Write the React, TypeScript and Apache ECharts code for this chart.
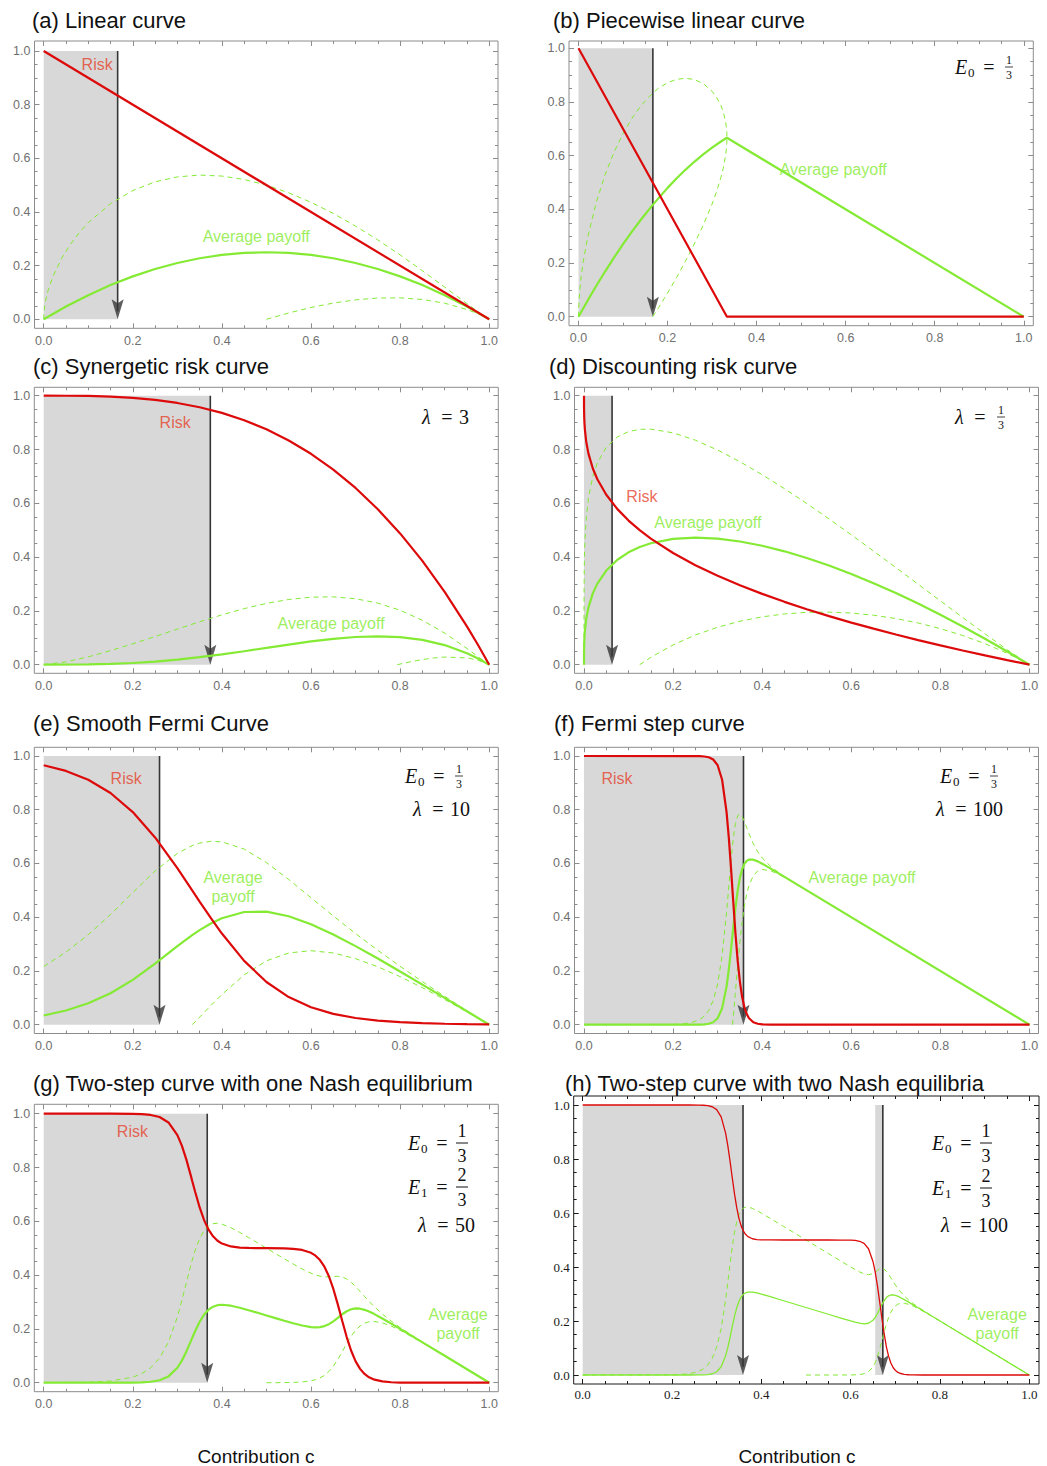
import React, { useEffect, useRef } from "react";
import * as echarts from "echarts";

type P = [number, number];

// ---------- (a) Linear curve ----------
const aRisk: P[] = [[0, 1], [1, 0]];
const aPay: P[] = [[0, 0], [0.05, 0.0475], [0.1, 0.09], [0.15, 0.1275], [0.2, 0.16], [0.25, 0.1875], [0.3, 0.21], [0.35, 0.2275], [0.4, 0.24], [0.45, 0.2475], [0.5, 0.25], [0.55, 0.2475], [0.6, 0.24], [0.65, 0.2275], [0.7, 0.21], [0.75, 0.1875], [0.8, 0.16], [0.85, 0.1275], [0.9, 0.09], [0.95, 0.0475], [1, 0]];
const aUp: P[] = [[0, 0], [0.001, 0.0326], [0.0025, 0.0523], [0.005, 0.0752], [0.01, 0.1084], [0.02, 0.1568], [0.04, 0.2265], [0.06, 0.2796], [0.08, 0.3232], [0.1, 0.36], [0.15, 0.431], [0.2, 0.48], [0.25, 0.5123], [0.3, 0.5308], [0.35, 0.5375], [0.4, 0.5339], [0.45, 0.5211], [0.5, 0.5], [0.55, 0.4714], [0.6, 0.436], [0.65, 0.3945], [0.7, 0.3475], [0.75, 0.2958], [0.8, 0.24], [0.85, 0.1811], [0.9, 0.12], [0.95, 0.0584], [0.975, 0.0283], [0.99, 0.0109], [1, 0]];
const aLow: P[] = [[0.5, 0], [0.55, 0.0236], [0.6, 0.044], [0.65, 0.0605], [0.7, 0.0725], [0.75, 0.0792], [0.8, 0.08], [0.85, 0.0739], [0.9, 0.06], [0.95, 0.0366], [0.975, 0.0205], [0.99, 0.0089], [1, 0]];

// ---------- (b) Piecewise linear ----------
const bRisk: P[] = [[0, 1], [0.3333, 0], [1, 0]];
const bPay: P[] = [[0, 0], [0.02, 0.0588], [0.04, 0.1152], [0.06, 0.1692], [0.08, 0.2208], [0.1, 0.27], [0.12, 0.3168], [0.14, 0.3612], [0.1667, 0.4167], [0.2, 0.48], [0.22, 0.5148], [0.24, 0.5472], [0.26, 0.5772], [0.28, 0.6048], [0.3, 0.63], [0.32, 0.6528], [0.3333, 0.6667], [1, 0]];
const bUp: P[] = [[0, 0], [0.001, 0.0576], [0.005, 0.1359], [0.01, 0.1986], [0.02, 0.2915], [0.04, 0.4272], [0.06, 0.5303], [0.08, 0.6137], [0.1, 0.6824], [0.12, 0.7392], [0.14, 0.7857], [0.1667, 0.8333], [0.18, 0.8515], [0.2, 0.8719], [0.22, 0.8843], [0.24, 0.8884], [0.26, 0.8837], [0.28, 0.8688], [0.3, 0.84], [0.31, 0.8177], [0.32, 0.7861], [0.325, 0.7635], [0.33, 0.73], [0.332, 0.7075], [0.333, 0.6874], [0.3333, 0.6667]];
const bLow: P[] = [[0.1667, 0], [0.18, 0.0341], [0.2, 0.0881], [0.22, 0.1453], [0.24, 0.206], [0.26, 0.2707], [0.28, 0.3408], [0.3, 0.42], [0.31, 0.4657], [0.32, 0.5195], [0.325, 0.5527], [0.33, 0.5966], [0.332, 0.6231], [0.333, 0.6452], [0.3333, 0.6667]];

// ---------- (c) Synergetic ----------
const cRisk: P[] = [[0, 1], [0.05, 0.9999], [0.1, 0.999], [0.15, 0.9966], [0.2, 0.992], [0.25, 0.9844], [0.3, 0.973], [0.35, 0.9571], [0.4, 0.936], [0.45, 0.9089], [0.5, 0.875], [0.55, 0.8336], [0.6, 0.784], [0.65, 0.7254], [0.7, 0.657], [0.75, 0.5781], [0.8, 0.488], [0.85, 0.3859], [0.9, 0.271], [0.95, 0.1426], [0.975, 0.0731], [1, 0]];
const cPay: P[] = [[0, 0], [0.1, 0.0009], [0.15, 0.0029], [0.2, 0.0064], [0.25, 0.0117], [0.3, 0.0189], [0.35, 0.0279], [0.4, 0.0384], [0.45, 0.0501], [0.5, 0.0625], [0.55, 0.0749], [0.6, 0.0864], [0.65, 0.0961], [0.7, 0.1029], [0.75, 0.1055], [0.8, 0.1024], [0.85, 0.0921], [0.9, 0.0729], [0.95, 0.0429], [0.975, 0.0232], [1, 0]];
const cUp: P[] = [[0, 0], [0.05, 0.0107], [0.1, 0.0293], [0.15, 0.0522], [0.2, 0.0777], [0.25, 0.1047], [0.3, 0.1324], [0.35, 0.1596], [0.4, 0.1853], [0.45, 0.2084], [0.5, 0.2279], [0.55, 0.2425], [0.6, 0.251], [0.65, 0.2523], [0.7, 0.2453], [0.75, 0.2289], [0.8, 0.2024], [0.85, 0.1651], [0.9, 0.1174], [0.95, 0.0604], [0.975, 0.0297], [1, 0]];
const cLow: P[] = [[0.7937, 0], [0.8, 0.0024], [0.82, 0.0098], [0.85, 0.0191], [0.875, 0.0249], [0.9, 0.0285], [0.95, 0.0254], [0.975, 0.0167], [1, 0]];

// ---------- (d) Discounting ----------
const dRisk: P[] = [[0, 1], [0.0001, 0.9536], [0.0005, 0.9206], [0.001, 0.9], [0.002, 0.874], [0.005, 0.829], [0.01, 0.7846], [0.02, 0.7286], [0.03, 0.6893], [0.05, 0.6316], [0.075, 0.5783], [0.1, 0.5358], [0.125, 0.5], [0.15, 0.4687], [0.2, 0.4152], [0.25, 0.37], [0.3, 0.3306], [0.35, 0.2953], [0.4, 0.2632], [0.45, 0.2337], [0.5, 0.2063], [0.55, 0.1807], [0.6, 0.1566], [0.65, 0.134], [0.7, 0.1121], [0.75, 0.0914], [0.8, 0.0717], [0.85, 0.0527], [0.9, 0.0345], [0.95, 0.017], [1, 0]];
const dPay: P[] = [[0, 0], [0.0001, 0.0464], [0.0005, 0.0794], [0.001, 0.0999], [0.002, 0.1257], [0.005, 0.1701], [0.01, 0.2132], [0.02, 0.266], [0.03, 0.3014], [0.05, 0.35], [0.075, 0.3901], [0.1, 0.4178], [0.125, 0.4375], [0.15, 0.4516], [0.2, 0.4678], [0.25, 0.4725], [0.3, 0.4686], [0.35, 0.4581], [0.4, 0.4421], [0.45, 0.4215], [0.5, 0.3969], [0.55, 0.3687], [0.6, 0.3374], [0.65, 0.3031], [0.7, 0.2664], [0.75, 0.2272], [0.8, 0.1857], [0.85, 0.1421], [0.9, 0.0966], [0.95, 0.0492], [1, 0]];
const dUp: P[] = [[0, 0], [0.0001, 0.2568], [0.0005, 0.3497], [0.001, 0.3996], [0.002, 0.4569], [0.005, 0.5447], [0.01, 0.6202], [0.02, 0.7018], [0.03, 0.7503], [0.05, 0.8083], [0.075, 0.8469], [0.1, 0.8666], [0.125, 0.875], [0.15, 0.8758], [0.2, 0.862], [0.25, 0.8346], [0.3, 0.7979], [0.35, 0.7546], [0.4, 0.7063], [0.45, 0.6543], [0.5, 0.5992], [0.55, 0.5419], [0.6, 0.4828], [0.65, 0.4223], [0.7, 0.3611], [0.75, 0.2993], [0.8, 0.2373], [0.85, 0.1756], [0.9, 0.1148], [0.95, 0.0557], [1, 0]];
const dLow: P[] = [[0.125, 0], [0.15, 0.0274], [0.2, 0.0736], [0.25, 0.1104], [0.3, 0.1393], [0.35, 0.1616], [0.4, 0.1779], [0.45, 0.1887], [0.5, 0.1946], [0.55, 0.1955], [0.6, 0.192], [0.65, 0.1839], [0.7, 0.1717], [0.75, 0.1551], [0.8, 0.1341], [0.85, 0.1086], [0.9, 0.0783], [0.95, 0.0427], [1, 0]];

// ---------- (e) Smooth Fermi ----------
const eRisk: P[] = [[0, 0.9656], [0.05, 0.9445], [0.1, 0.9116], [0.15, 0.8622], [0.2, 0.7914], [0.25, 0.697], [0.3, 0.5826], [0.3333, 0.5], [0.35, 0.4584], [0.375, 0.3973], [0.4, 0.3393], [0.45, 0.2375], [0.5, 0.1589], [0.55, 0.1028], [0.6, 0.065], [0.65, 0.0404], [0.7, 0.0249], [0.75, 0.0153], [0.8, 0.0093], [0.85, 0.0057], [0.9, 0.0035], [0.95, 0.0021], [1, 0.0013]];
const ePay: P[] = [[0, 0.0344], [0.05, 0.0527], [0.1, 0.0796], [0.15, 0.1171], [0.2, 0.1669], [0.25, 0.2273], [0.3, 0.2922], [0.3333, 0.3333], [0.35, 0.352], [0.375, 0.3767], [0.4, 0.3964], [0.45, 0.4194], [0.5, 0.4206], [0.55, 0.4037], [0.6, 0.374], [0.65, 0.3359], [0.7, 0.2925], [0.75, 0.2462], [0.8, 0.1981], [0.85, 0.1491], [0.9, 0.0997], [0.95, 0.0499], [1, 0]];
const eUp: P[] = [[0, 0.2167], [0.05, 0.2702], [0.1, 0.3351], [0.15, 0.4101], [0.2, 0.4919], [0.25, 0.572], [0.3, 0.6374], [0.3333, 0.6667], [0.35, 0.6759], [0.375, 0.6825], [0.4, 0.6805], [0.45, 0.6535], [0.5, 0.6034], [0.55, 0.5404], [0.6, 0.4726], [0.65, 0.4048], [0.7, 0.3392], [0.75, 0.2769], [0.8, 0.2173], [0.85, 0.1604], [0.9, 0.1055], [0.95, 0.0522], [1, 0]];
const eLow: P[] = [[0.3333, 0], [0.35, 0.0281], [0.375, 0.0709], [0.4, 0.1123], [0.45, 0.1853], [0.5, 0.2378], [0.55, 0.267], [0.6, 0.2754], [0.65, 0.267], [0.7, 0.2458], [0.75, 0.2155], [0.8, 0.1789], [0.85, 0.1378], [0.9, 0.0938], [0.95, 0.0476], [1, 0]];

// ---------- (f) Fermi step ----------
const fRisk: P[] = [[0, 1], [0.24, 0.9999], [0.26, 0.9993], [0.27, 0.9982], [0.28, 0.9952], [0.29, 0.987], [0.3, 0.9656], [0.31, 0.9116], [0.32, 0.7914], [0.325, 0.697], [0.33, 0.5826], [0.3333, 0.5], [0.3367, 0.4174], [0.34, 0.3393], [0.345, 0.2375], [0.35, 0.1589], [0.355, 0.1028], [0.36, 0.065], [0.365, 0.0404], [0.37, 0.0249], [0.38, 0.0093], [0.39, 0.0035], [0.4, 0.0013], [0.42, 0.0002], [0.45, 0], [1, 0]];
const fPay: P[] = [[0, 0], [0.24, 0.0001], [0.26, 0.0005], [0.27, 0.0013], [0.28, 0.0035], [0.29, 0.0092], [0.3, 0.0241], [0.31, 0.061], [0.32, 0.1418], [0.325, 0.2045], [0.33, 0.2797], [0.3333, 0.3333], [0.3367, 0.3864], [0.34, 0.4361], [0.345, 0.4994], [0.35, 0.5467], [0.355, 0.5787], [0.36, 0.5984], [0.365, 0.6093], [0.37, 0.6143], [0.38, 0.6142], [0.39, 0.6079], [0.4, 0.5992], [0.42, 0.5799], [0.45, 0.55], [1, 0]];
const fUp: P[] = [[0, 0], [0.18, 0.0004], [0.2, 0.001], [0.22, 0.0027], [0.24, 0.0072], [0.26, 0.0194], [0.27, 0.032], [0.28, 0.0533], [0.29, 0.0895], [0.3, 0.1518], [0.31, 0.2569], [0.32, 0.4181], [0.325, 0.5147], [0.33, 0.6101], [0.3333, 0.6667], [0.3367, 0.7135], [0.34, 0.7486], [0.345, 0.7782], [0.35, 0.7843], [0.355, 0.7746], [0.36, 0.7562], [0.365, 0.7343], [0.37, 0.7125], [0.38, 0.6738], [0.39, 0.6437], [0.4, 0.6206], [0.42, 0.5875], [0.44, 0.5627], [0.46, 0.5409], [0.5, 0.5], [1, 0]];
const fLow: P[] = [[0.3333, 0], [0.3367, 0.0593], [0.34, 0.1236], [0.345, 0.2206], [0.35, 0.3091], [0.355, 0.3828], [0.36, 0.4406], [0.365, 0.4843], [0.37, 0.5161], [0.38, 0.5546], [0.39, 0.5721], [0.4, 0.5778], [0.42, 0.5723], [0.44, 0.5573], [0.46, 0.5391], [0.5, 0.5], [1, 0]];

// ---------- (g) Two-step, one Nash equilibrium ----------
const gRisk: P[] = [[0, 1], [0.15, 1], [0.2, 0.9994], [0.22, 0.9983], [0.24, 0.9953], [0.26, 0.9876], [0.28, 0.9675], [0.3, 0.9206], [0.31, 0.8813], [0.32, 0.8303], [0.33, 0.7708], [0.3333, 0.75], [0.34, 0.7087], [0.35, 0.6515], [0.36, 0.6043], [0.37, 0.5689], [0.38, 0.5442], [0.39, 0.5277], [0.4, 0.5172], [0.42, 0.5065], [0.44, 0.5024], [0.46, 0.5009], [0.5, 0.5], [0.54, 0.4991], [0.56, 0.4976], [0.58, 0.4935], [0.6, 0.4828], [0.61, 0.4722], [0.62, 0.4558], [0.63, 0.4311], [0.64, 0.3957], [0.65, 0.3485], [0.66, 0.2913], [0.6667, 0.25], [0.67, 0.2292], [0.68, 0.1696], [0.69, 0.1187], [0.7, 0.0794], [0.71, 0.0514], [0.72, 0.0325], [0.73, 0.0202], [0.74, 0.0124], [0.76, 0.0047], [0.78, 0.0017], [0.8, 0.0006], [0.85, 0], [1, 0]];
const gPay: P[] = [[0, 0], [0.15, 0], [0.2, 0.0005], [0.22, 0.0013], [0.24, 0.0035], [0.26, 0.0092], [0.28, 0.0234], [0.3, 0.0556], [0.31, 0.0819], [0.32, 0.1154], [0.33, 0.1536], [0.3333, 0.1667], [0.34, 0.1923], [0.35, 0.2265], [0.36, 0.2532], [0.37, 0.2716], [0.38, 0.2826], [0.39, 0.2881], [0.4, 0.2897], [0.42, 0.2862], [0.44, 0.2787], [0.46, 0.2695], [0.48, 0.2598], [0.5, 0.25], [0.52, 0.2401], [0.54, 0.2304], [0.56, 0.2211], [0.58, 0.2127], [0.6, 0.2069], [0.61, 0.2058], [0.62, 0.2068], [0.63, 0.2105], [0.64, 0.2175], [0.65, 0.228], [0.66, 0.241], [0.6667, 0.25], [0.67, 0.2544], [0.68, 0.2657], [0.69, 0.2732], [0.7, 0.2762], [0.71, 0.2751], [0.72, 0.2709], [0.73, 0.2645], [0.74, 0.2568], [0.76, 0.2389], [0.78, 0.2196], [0.8, 0.1999], [0.85, 0.15], [0.9, 0.1], [1, 0]];
const gUp: P[] = [[0, 0], [0.1, 0.0019], [0.15, 0.0062], [0.2, 0.0207], [0.22, 0.0337], [0.24, 0.0553], [0.26, 0.0913], [0.28, 0.1511], [0.3, 0.2449], [0.31, 0.3051], [0.32, 0.3707], [0.33, 0.4352], [0.3333, 0.4554], [0.34, 0.4922], [0.35, 0.5362], [0.36, 0.5662], [0.37, 0.5836], [0.38, 0.5914], [0.39, 0.5926], [0.4, 0.5895], [0.42, 0.5762], [0.44, 0.5587], [0.46, 0.5395], [0.48, 0.5198], [0.5, 0.5], [0.52, 0.4801], [0.54, 0.4604], [0.56, 0.4411], [0.58, 0.4227], [0.6, 0.4068], [0.61, 0.4005], [0.62, 0.3961], [0.63, 0.3937], [0.64, 0.3935], [0.65, 0.3948], [0.66, 0.3955], [0.6667, 0.3943], [0.67, 0.3931], [0.68, 0.3858], [0.69, 0.3735], [0.7, 0.3573], [0.71, 0.3391], [0.72, 0.3206], [0.73, 0.3025], [0.74, 0.2856], [0.76, 0.2553], [0.78, 0.2287], [0.8, 0.205], [0.85, 0.1511], [0.9, 0.1], [1, 0]];
const gLow: P[] = [[0.5, 0], [0.52, 0.0001], [0.54, 0.0004], [0.56, 0.0011], [0.58, 0.0027], [0.6, 0.007], [0.61, 0.0111], [0.62, 0.0175], [0.63, 0.0273], [0.64, 0.0415], [0.65, 0.0612], [0.66, 0.0865], [0.6667, 0.1057], [0.67, 0.1157], [0.68, 0.1456], [0.69, 0.1729], [0.7, 0.1951], [0.71, 0.2111], [0.72, 0.2212], [0.73, 0.2265], [0.74, 0.228], [0.76, 0.2225], [0.78, 0.2105], [0.8, 0.1948], [0.85, 0.1489], [0.9, 0.1], [1, 0]];

// ---------- (h) Two-step, two Nash equilibria ----------
const hRisk: P[] = [[0, 1], [0.24, 1], [0.26, 0.9997], [0.27, 0.9991], [0.28, 0.9976], [0.29, 0.9935], [0.3, 0.9828], [0.31, 0.9558], [0.32, 0.8957], [0.325, 0.8485], [0.33, 0.7913], [0.3333, 0.75], [0.3367, 0.7087], [0.34, 0.6696], [0.345, 0.6187], [0.35, 0.5794], [0.355, 0.5514], [0.36, 0.5325], [0.365, 0.5202], [0.37, 0.5124], [0.38, 0.5046], [0.39, 0.5017], [0.4, 0.5006], [0.42, 0.5001], [0.45, 0.5], [0.55, 0.5], [0.58, 0.4999], [0.59, 0.4998], [0.6, 0.4994], [0.61, 0.4983], [0.62, 0.4953], [0.63, 0.4876], [0.64, 0.4675], [0.65, 0.4206], [0.655, 0.3813], [0.66, 0.3303], [0.6667, 0.25], [0.67, 0.2087], [0.6733, 0.1696], [0.68, 0.1043], [0.685, 0.0689], [0.69, 0.0442], [0.695, 0.0277], [0.7, 0.0172], [0.705, 0.0106], [0.71, 0.0065], [0.72, 0.0024], [0.73, 0.0009], [0.74, 0.0003], [0.76, 0], [1, 0]];
const hPay: P[] = [[0, 0], [0.24, 0], [0.26, 0.0002], [0.27, 0.0006], [0.28, 0.0017], [0.29, 0.0046], [0.3, 0.0121], [0.31, 0.0305], [0.32, 0.0709], [0.325, 0.1023], [0.33, 0.1398], [0.3333, 0.1667], [0.3367, 0.1932], [0.34, 0.2181], [0.345, 0.2498], [0.35, 0.2734], [0.355, 0.2893], [0.36, 0.2992], [0.365, 0.3047], [0.37, 0.3072], [0.38, 0.3071], [0.39, 0.304], [0.4, 0.2996], [0.42, 0.29], [0.45, 0.275], [0.5, 0.25], [0.55, 0.225], [0.58, 0.21], [0.6, 0.2003], [0.61, 0.1957], [0.62, 0.1918], [0.63, 0.1896], [0.64, 0.1917], [0.65, 0.2028], [0.655, 0.2135], [0.66, 0.2277], [0.6667, 0.25], [0.67, 0.2611], [0.6733, 0.2713], [0.68, 0.2866], [0.685, 0.2933], [0.69, 0.2963], [0.695, 0.2966], [0.7, 0.2948], [0.705, 0.2919], [0.71, 0.2881], [0.72, 0.2793], [0.73, 0.2698], [0.74, 0.2599], [0.75, 0.25], [0.8, 0.2], [1, 0]];
const hUp: P[] = [[0, 0], [0.2, 0.0007], [0.22, 0.0019], [0.24, 0.0051], [0.26, 0.0136], [0.27, 0.0224], [0.28, 0.037], [0.29, 0.0615], [0.3, 0.1031], [0.31, 0.1723], [0.32, 0.2787], [0.325, 0.3443], [0.33, 0.4121], [0.3333, 0.4554], [0.3367, 0.4946], [0.34, 0.5286], [0.345, 0.5679], [0.35, 0.5943], [0.355, 0.6101], [0.36, 0.6185], [0.365, 0.6221], [0.37, 0.6221], [0.38, 0.6171], [0.39, 0.609], [0.4, 0.5996], [0.42, 0.58], [0.45, 0.55], [0.5, 0.5], [0.55, 0.45], [0.58, 0.42], [0.6, 0.4003], [0.61, 0.3907], [0.62, 0.3818], [0.63, 0.3745], [0.64, 0.3713], [0.65, 0.3756], [0.655, 0.3811], [0.66, 0.3876], [0.6667, 0.3943], [0.67, 0.3952], [0.6733, 0.3939], [0.68, 0.3844], [0.685, 0.3731], [0.69, 0.36], [0.695, 0.3466], [0.7, 0.3338], [0.705, 0.3221], [0.71, 0.3114], [0.72, 0.293], [0.73, 0.2778], [0.74, 0.2646], [0.75, 0.2527], [0.78, 0.2206], [0.8, 0.2], [1, 0]];
const hLow: P[] = [[0.5, 0], [0.58, 0], [0.6, 0.0003], [0.61, 0.0007], [0.62, 0.0018], [0.63, 0.0047], [0.64, 0.0121], [0.65, 0.03], [0.655, 0.0459], [0.66, 0.0678], [0.6667, 0.1057], [0.67, 0.127], [0.6733, 0.1487], [0.68, 0.1888], [0.685, 0.2135], [0.69, 0.2326], [0.695, 0.2466], [0.7, 0.2558], [0.705, 0.2617], [0.71, 0.2648], [0.72, 0.2656], [0.73, 0.2618], [0.74, 0.2552], [0.75, 0.2473], [0.78, 0.2194], [0.8, 0.2], [1, 0]];

// ---------- ticks ----------
const MAJOR = [0, 0.2, 0.4, 0.6, 0.8, 1];
const MINOR = [0.05, 0.1, 0.15, 0.25, 0.3, 0.35, 0.45, 0.5, 0.55, 0.65, 0.7, 0.75, 0.85, 0.9, 0.95];

const RED = "#dc0a0a";
const GREEN = "#84ea34";
const LABEL_RED = "#e5432d";
const FILL = "#d8d8d8";
const ARROW = "#363636";
const SANS = "'Liberation Sans', Arial, Helvetica, sans-serif";
const SERIF = "'Liberation Serif', 'Times New Roman', serif";

interface Lbl { text: string; c: number; y: number; color: string }
interface Panel {
  title: string; tx: number; ty: number;
  L: number; R: number; T: number; B: number;
  c0: number; c1: number; y1: number; y0: number;
  risk: P[]; pay: P[]; up: P[]; low: P[];
  shades: [number, number][]; arrows: number[];
  labels: Lbl[]; serif?: boolean;
}

const AVG = "Average payoff";
const AVG2 = "Average\npayoff";

const panels: Panel[] = [
  { title: "(a) Linear curve", tx: 32, ty: 20, L: 34.5, R: 498, T: 41, B: 328.3, c0: 43.7, c1: 489.2, y1: 51, y0: 319.3,
    risk: aRisk, pay: aPay, up: aUp, low: aLow, shades: [[0, 0.166]], arrows: [0.166],
    labels: [{ text: "Risk", c: 0.12, y: 0.948, color: LABEL_RED }, { text: AVG, c: 0.477, y: 0.31, color: GREEN }] },
  { title: "(b) Piecewise linear curve", tx: 553, ty: 20, L: 569, R: 1033.3, T: 41, B: 325.7, c0: 578.5, c1: 1023.8, y1: 48.3, y0: 316.7,
    risk: bRisk, pay: bPay, up: bUp, low: bLow, shades: [[0, 0.167]], arrows: [0.167],
    labels: [{ text: AVG, c: 0.572, y: 0.547, color: GREEN }] },
  { title: "(c) Synergetic risk curve", tx: 33, ty: 366.7, L: 34.3, R: 498.3, T: 387.3, B: 673.3, c0: 43.7, c1: 489.2, y1: 395.7, y0: 664.7,
    risk: cRisk, pay: cPay, up: cUp, low: cLow, shades: [[0, 0.374]], arrows: [0.374],
    labels: [{ text: "Risk", c: 0.295, y: 0.902, color: LABEL_RED }, { text: AVG, c: 0.645, y: 0.155, color: GREEN }] },
  { title: "(d) Discounting risk curve", tx: 549, ty: 366.7, L: 574.5, R: 1038.5, T: 387.3, B: 673.3, c0: 584, c1: 1029.5, y1: 395.7, y0: 664.7,
    risk: dRisk, pay: dPay, up: dUp, low: dLow, shades: [[0, 0.063]], arrows: [0.063],
    labels: [{ text: "Risk", c: 0.13, y: 0.625, color: LABEL_RED }, { text: AVG, c: 0.278, y: 0.528, color: GREEN }] },
  { title: "(e) Smooth Fermi Curve", tx: 33, ty: 723.3, L: 34.3, R: 498.3, T: 747.3, B: 1033.5, c0: 43.7, c1: 489.2, y1: 756, y0: 1024.7,
    risk: eRisk, pay: ePay, up: eUp, low: eLow, shades: [[0, 0.26]], arrows: [0.26],
    labels: [{ text: "Risk", c: 0.185, y: 0.918, color: LABEL_RED }, { text: AVG2, c: 0.425, y: 0.513, color: GREEN }] },
  { title: "(f) Fermi step curve", tx: 554, ty: 723.3, L: 574.5, R: 1038.5, T: 747.3, B: 1033.5, c0: 584, c1: 1029.5, y1: 756, y0: 1024.7,
    risk: fRisk, pay: fPay, up: fUp, low: fLow, shades: [[0, 0.358]], arrows: [0.358],
    labels: [{ text: "Risk", c: 0.074, y: 0.917, color: LABEL_RED }, { text: AVG, c: 0.624, y: 0.546, color: GREEN }] },
  { title: "(g) Two-step curve with one Nash equilibrium", tx: 33, ty: 1083, L: 34.3, R: 498.3, T: 1104.3, B: 1391.7, c0: 43.7, c1: 489.3, y1: 1113.7, y0: 1382.7,
    risk: gRisk, pay: gPay, up: gUp, low: gLow, shades: [[0, 0.367]], arrows: [0.367],
    labels: [{ text: "Risk", c: 0.199, y: 0.933, color: LABEL_RED }, { text: AVG2, c: 0.93, y: 0.219, color: GREEN }] },
  { title: "(h) Two-step curve with two Nash equilibria", tx: 565, ty: 1083, L: 573.7, R: 1039, T: 1096, B: 1384, c0: 582.7, c1: 1029.3, y1: 1105, y0: 1375,
    risk: hRisk, pay: hPay, up: hUp, low: hLow, shades: [[0, 0.359], [0.655, 0.673]], arrows: [0.359, 0.672], serif: true,
    labels: [{ text: AVG2, c: 0.928, y: 0.19, color: GREEN }] },
];

// ---------- graphic helpers (annotation text layout) ----------
function T(x: number, y: number, text: string, size: number, o: any = {}) {
  return {
    type: "text", x, y, silent: true, z: 100,
    style: {
      text, fontSize: size, fontFamily: o.family || SERIF, fontStyle: o.italic ? "italic" : "normal",
      fill: o.color || "#111", align: o.align || "left", verticalAlign: "middle", lineHeight: o.lh || size,
    },
  };
}
function hbar(x1: number, x2: number, y: number, w: number) {
  return { type: "line", silent: true, z: 100, shape: { x1, y1: y, x2, y2: y }, style: { stroke: "#111", lineWidth: w } };
}
function eqE(X: number, y: number, sub: string, num: string, den: string, display: boolean) {
  const els: any[] = [T(X, y, "E", 20, { italic: true }), T(X + 13, y + 5, sub, 13), T(X + 34, y, "=", 20, { align: "center" })];
  const F = X + 54;
  if (display) {
    els.push(T(F, y - 12.5, num, 18, { align: "center" }), hbar(F - 6, F + 6, y, 1), T(F, y + 13, den, 18, { align: "center" }));
  } else {
    els.push(T(F, y - 7, num, 12, { align: "center" }), hbar(F - 4, F + 4, y, 0.8), T(F, y + 8, den, 12, { align: "center" }));
  }
  return els;
}
function eqL(X: number, y: number, value: string | null, frac?: [string, string]) {
  const els: any[] = [T(X, y, "λ", 20, { italic: true }), T(X + 25, y, "=", 20, { align: "center" })];
  if (value) els.push(T(X + 37, y, value, 20));
  if (frac) {
    const F = X + 46;
    els.push(T(F, y - 7, frac[0], 12, { align: "center" }), hbar(F - 4, F + 4, y, 0.8), T(F, y + 8, frac[1], 12, { align: "center" }));
  }
  return els;
}

function buildOption() {
  const grid: any[] = [];
  const xAxis: any[] = [];
  const yAxis: any[] = [];
  const series: any[] = [];
  const graphic: any[] = [];

  panels.forEach((p, i) => {
    const frame = p.serif ? "#1a1a1a" : "#8c8c8c";
    const lblColor = p.serif ? "#1a1a1a" : "#707070";
    const lblFont = p.serif ? SERIF : SANS;
    const xmin = -(p.c0 - p.L) / (p.c1 - p.c0);
    const xmax = 1 + (p.R - p.c1) / (p.c1 - p.c0);
    const ymin = -(p.B - p.y0) / (p.y0 - p.y1);
    const ymax = 1 + (p.y1 - p.T) / (p.y0 - p.y1);

    grid.push({ left: p.L, top: p.T, width: p.R - p.L, height: p.B - p.T, show: true, borderColor: frame, borderWidth: 1, backgroundColor: "transparent" });

    const axis = (pos: string, major: boolean, labels: boolean, isX: boolean) => ({
      type: "value", gridIndex: i, position: pos,
      min: isX ? xmin : ymin, max: isX ? xmax : ymax,
      axisLine: { show: false, onZero: false }, splitLine: { show: false },
      axisTick: { show: true, inside: true, length: major ? 5 : 3, customValues: major ? MAJOR : MINOR, lineStyle: { color: frame, width: 1 } },
      axisLabel: labels
        ? { show: true, customValues: MAJOR, formatter: (v: number) => v.toFixed(1), color: lblColor, fontSize: p.serif ? 13 : 12.5, fontFamily: lblFont, margin: isX ? (p.serif ? 4 : 6) : 4 }
        : { show: false },
    });
    xAxis.push(axis("bottom", true, true, true), axis("bottom", false, false, true), axis("top", true, false, true), axis("top", false, false, true));
    yAxis.push(axis("left", true, true, false), axis("left", false, false, false), axis("right", true, false, false), axis("right", false, false, false));

    const base = { xAxisIndex: 4 * i, yAxisIndex: 4 * i, silent: true, animation: false };
    const lw = p.serif ? 1.3 : 2.2;

    series.push({
      ...base, type: "line", data: [[0, 0], [0, 0]], symbol: "none", lineStyle: { opacity: 0, width: 0 }, z: 1,
      markArea: { silent: true, itemStyle: { color: FILL }, data: p.shades.map(([a, b]) => [{ coord: [a, 0] }, { coord: [b, 1] }]) },
    });
    p.arrows.forEach((x) => {
      series.push({ ...base, type: "line", data: [[x, 1], [x, 0.03]], symbol: "none", lineStyle: { color: ARROW, width: 1.6 }, z: 2 });
      series.push({
        ...base, type: "scatter", data: [[x, 0]], symbol: "path://M0 0 L6 4 L12 0 L6 20 Z", symbolSize: [12, 20],
        symbolOffset: [0, -10], itemStyle: { color: ARROW }, z: 2,
      });
    });
    const dash = { color: GREEN, width: 1, type: [5, 4] };
    series.push({ ...base, type: "line", data: p.up, symbol: "none", lineStyle: dash, z: 3 });
    series.push({ ...base, type: "line", data: p.low, symbol: "none", lineStyle: dash, z: 3 });
    series.push({ ...base, type: "line", data: p.pay, symbol: "none", lineStyle: { color: GREEN, width: lw }, z: 4 });
    series.push({ ...base, type: "line", data: p.risk, symbol: "none", lineStyle: { color: RED, width: lw }, z: 5 });
    p.labels.forEach((l) => {
      series.push({
        ...base, type: "scatter", data: [[l.c, l.y]], symbolSize: 1, itemStyle: { color: "rgba(0,0,0,0)" }, z: 6,
        label: { show: true, position: "inside", formatter: l.text, color: l.color, fontSize: 16, fontFamily: SANS, lineHeight: 19, align: "center", verticalAlign: "middle" },
      });
    });

    graphic.push(T(p.tx, p.ty, p.title, 22, { family: SANS, color: "#111" }));
  });

  // parameter annotations
  graphic.push(...eqE(955, 67, "0", "1", "3", false));
  graphic.push(...eqL(422, 417, "3"));
  graphic.push(...eqL(955, 417, null, ["1", "3"]));
  graphic.push(...eqE(405, 776, "0", "1", "3", false));
  graphic.push(...eqL(413, 809, "10"));
  graphic.push(...eqE(940, 776, "0", "1", "3", false));
  graphic.push(...eqL(936, 809, "100"));
  graphic.push(...eqE(408, 1143, "0", "1", "3", true));
  graphic.push(...eqE(408, 1187, "1", "2", "3", true));
  graphic.push(...eqL(418, 1225, "50"));
  graphic.push(...eqE(932, 1143, "0", "1", "3", true));
  graphic.push(...eqE(932, 1188, "1", "2", "3", true));
  graphic.push(...eqL(941, 1225, "100"));

  graphic.push(T(256, 1456, "Contribution c", 19, { family: SANS, align: "center", color: "#111" }));
  graphic.push(T(797, 1456, "Contribution c", 19, { family: SANS, align: "center", color: "#111" }));

  return { animation: false, backgroundColor: "#ffffff", grid, xAxis, yAxis, series, graphic };
}

export default function App() {
  const ref = useRef<HTMLDivElement>(null);
  useEffect(() => {
    if (!ref.current) return;
    const chart = echarts.init(ref.current, null, { renderer: "svg" });
    chart.setOption(buildOption() as any);
    return () => chart.dispose();
  }, []);
  return <div ref={ref} style={{ position: "absolute", left: 0, top: 0, width: 1047, height: 1466 }} />;
}
